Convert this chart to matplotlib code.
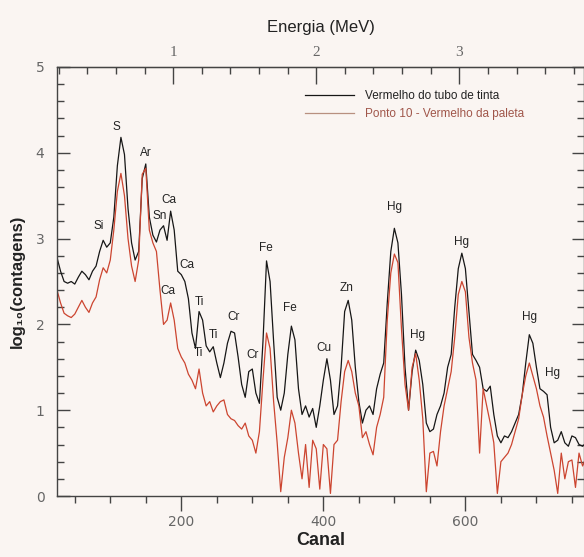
import matplotlib
matplotlib.use("Agg")
import matplotlib.pyplot as plt
from matplotlib.ticker import MultipleLocator, FixedLocator
import numpy as np

canal = list(range(25, 771, 5))

tubo = [2.78, 2.62, 2.50, 2.48, 2.50, 2.47, 2.55, 2.62, 2.58, 2.52,
        2.62, 2.68, 2.85, 2.98, 2.90, 2.95, 3.25, 3.85, 4.18, 3.98,
        3.35, 2.95, 2.75, 2.85, 3.70, 3.87, 3.25, 3.04, 2.96, 3.10,
        3.15, 2.98, 3.32, 3.10, 2.62, 2.58, 2.50, 2.30, 1.90, 1.72,
        2.15, 2.05, 1.75, 1.68, 1.74, 1.55, 1.38, 1.55, 1.78, 1.92,
        1.90, 1.62, 1.30, 1.15, 1.45, 1.48, 1.20, 1.08, 1.80, 2.74,
        2.50, 1.80, 1.15, 1.00, 1.20, 1.65, 1.98, 1.82, 1.25, 0.95,
        1.05, 0.92, 1.02, 0.80, 1.05, 1.35, 1.60, 1.35, 0.95, 1.05,
        1.50, 2.15, 2.28, 2.05, 1.50, 1.10, 0.85, 1.00, 1.05, 0.95,
        1.25, 1.42, 1.55, 2.25, 2.85, 3.12, 2.95, 2.35, 1.50, 1.00,
        1.45, 1.70, 1.58, 1.30, 0.85, 0.75, 0.78, 0.95, 1.05, 1.20,
        1.50, 1.65, 2.20, 2.65, 2.83, 2.65, 2.15, 1.65, 1.58, 1.50,
        1.25, 1.22, 1.28, 0.95, 0.70, 0.62, 0.70, 0.68, 0.75, 0.85,
        0.95, 1.18, 1.55, 1.88, 1.78, 1.50, 1.25, 1.22, 1.18, 0.80,
        0.62, 0.65, 0.75, 0.62, 0.58, 0.70, 0.68, 0.60, 0.58, 0.62]

paleta = [2.40, 2.25, 2.13, 2.10, 2.08, 2.12, 2.20, 2.28, 2.20, 2.14,
          2.25, 2.32, 2.52, 2.66, 2.60, 2.75, 3.10, 3.55, 3.76, 3.50,
          3.00, 2.68, 2.50, 2.75, 3.75, 3.82, 3.10, 2.95, 2.85, 2.40,
          2.00, 2.05, 2.25, 2.05, 1.72, 1.62, 1.55, 1.42, 1.35, 1.25,
          1.48, 1.20, 1.05, 1.10, 0.98, 1.05, 1.10, 1.12, 0.95, 0.90,
          0.88, 0.82, 0.78, 0.85, 0.70, 0.65, 0.50, 0.75, 1.35, 1.90,
          1.72, 1.10, 0.62, 0.05, 0.45, 0.68, 1.00, 0.85, 0.50, 0.20,
          0.60, 0.10, 0.65, 0.55, 0.08, 0.60, 0.55, 0.03, 0.60, 0.65,
          1.10, 1.45, 1.58, 1.45, 1.20, 1.05, 0.68, 0.75, 0.60, 0.48,
          0.80, 0.95, 1.15, 2.05, 2.60, 2.82, 2.72, 1.95, 1.30, 1.00,
          1.50, 1.66, 1.35, 0.90, 0.05, 0.50, 0.52, 0.35, 0.75, 1.05,
          1.25, 1.45, 1.85, 2.35, 2.50, 2.38, 1.85, 1.55, 1.35, 0.50,
          1.25, 1.05, 0.85, 0.62, 0.03, 0.40, 0.45, 0.50, 0.60, 0.75,
          0.90, 1.18, 1.40, 1.55, 1.40, 1.25, 1.05, 0.92, 0.70, 0.50,
          0.30, 0.03, 0.50, 0.20, 0.40, 0.42, 0.10, 0.50, 0.35, 0.45]

# element labels: (text, channel, log10 value)
picos = [("Si", 84, 3.15), ("S", 108, 4.30), ("Ar", 150, 4.00),
         ("Sn", 170, 3.26), ("Ca", 183, 3.45), ("Ca", 208, 2.69),
         ("Ca", 181, 2.39), ("Ti", 225, 2.26), ("Ti", 246, 1.88),
         ("Ti", 224, 1.67), ("Cr", 273, 2.09), ("Cr", 301, 1.64),
         ("Fe", 319, 2.89), ("Fe", 353, 2.19), ("Cu", 401, 1.72),
         ("Zn", 432, 2.42), ("Hg", 500, 3.37), ("Hg", 533, 1.88),
         ("Hg", 594, 2.96), ("Hg", 690, 2.09), ("Hg", 722, 1.43)]

energia_ticks = [1, 2, 3]


def canal_para_mev(c):
    return (np.asarray(c) + 13.0) / 201.5


def mev_para_canal(e):
    return np.asarray(e) * 201.5 - 13.0


bg = "#faf5f2"
W, H = 584, 557
fig = plt.figure(figsize=(W / 100, H / 100), dpi=100, facecolor=bg)
ax = fig.add_axes([57 / W, 61 / H, 527 / W, 429 / H])
ax.set_facecolor(bg)

ax.plot(canal, tubo, color="#161616", lw=0.9,
        label="Vermelho do tubo de tinta")
ax.plot(canal, paleta, color="#cc4530", lw=0.9,
        label="Ponto 10 - Vermelho da paleta")

ax.set_xlim(25, 767)
ax.set_ylim(0, 5)

for txt, c, v in picos:
    ax.text(c, v, txt, ha="center", va="center", fontsize=8.5,
            family="Liberation Sans", color="#222222")

gray = "#666666"
ax.xaxis.set_major_locator(FixedLocator([200, 400, 600]))
ax.xaxis.set_minor_locator(MultipleLocator(50))
ax.yaxis.set_major_locator(MultipleLocator(1))
ax.yaxis.set_minor_locator(MultipleLocator(0.2))
ax.tick_params(axis="x", which="major", direction="out", length=11, width=1,
               colors="#444444", labelcolor=gray, labelsize=10, pad=3)
ax.tick_params(axis="x", which="minor", direction="out", length=5, width=1,
               colors="#444444")
ax.tick_params(axis="y", which="major", direction="in", length=9, width=1,
               colors="#444444", labelcolor=gray, labelsize=10, pad=9,
               right=True)
ax.tick_params(axis="y", which="minor", direction="in", length=5, width=1,
               colors="#444444", right=True)
for lab in ax.get_xticklabels() + ax.get_yticklabels():
    lab.set_family(["Liberation Sans Narrow", "DejaVu Sans"])
for s in ax.spines.values():
    s.set_color("#444444")
    s.set_linewidth(1)

top = ax.secondary_xaxis("top", functions=(canal_para_mev, mev_para_canal))
top.xaxis.set_major_locator(FixedLocator(energia_ticks))
top.xaxis.set_minor_locator(MultipleLocator(0.2))
top.tick_params(which="major", direction="in", length=12, width=1,
                colors="#444444", labelcolor=gray, labelsize=11, pad=6)
top.tick_params(which="minor", direction="in", length=5, width=1,
                colors="#444444")
for lab in top.get_xticklabels():
    lab.set_family("Liberation Serif")
top.set_xlabel("Energia (MeV)", fontsize=12, family="Liberation Sans",
               color="#222222", labelpad=10)

ax.set_xlabel("Canal", fontsize=13, family="Liberation Sans",
              fontweight="bold", color="#222222", labelpad=2)
ax.set_ylabel("log₁₀(contagens)", fontsize=12,
              family=["Liberation Sans", "DejaVu Sans"],
              fontweight="bold", color="#222222", labelpad=8)

leg = ax.legend(loc="upper left", bbox_to_anchor=(0.45, 0.97),
                frameon=False, fontsize=8.5, handlelength=4.2,
                handletextpad=0.9, labelspacing=0.45,
                prop={"family": "Liberation Sans", "size": 8.5})
leg.get_lines()[1].set_color("#b89080")
leg.get_lines()[1].set_linewidth(0.9)
leg.get_texts()[0].set_color("#222222")
leg.get_texts()[1].set_color("#a0564a")

fig.savefig("out.png", dpi=100, facecolor=bg)
